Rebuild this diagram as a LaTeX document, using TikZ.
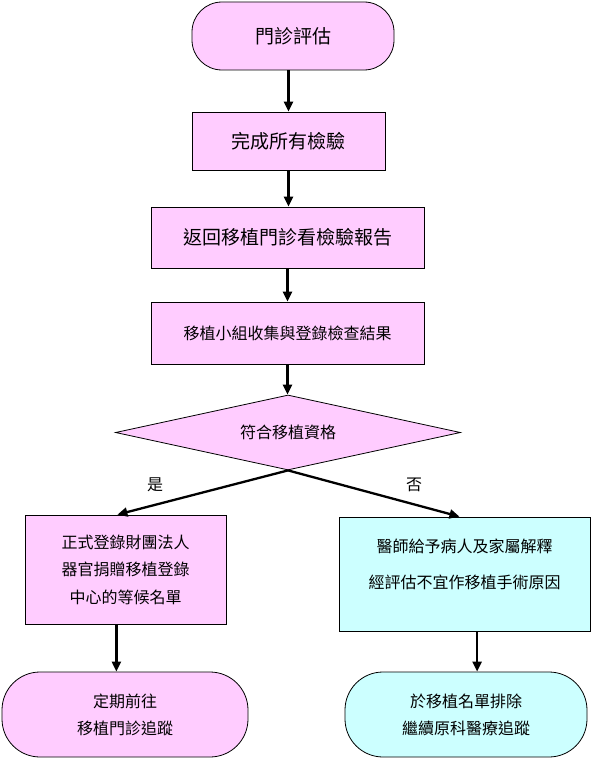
\documentclass[tikz,border=0pt]{standalone}
\usepackage{fontspec}
\setmainfont{Noto Sans CJK TC}
\usetikzlibrary{arrows.meta,shapes.geometric,calc}
\definecolor{pinkc}{HTML}{FFCCFF}
\definecolor{cyanc}{HTML}{CCFFFF}
\begin{document}
\begin{tikzpicture}[x=1pt,y=-1pt,
  base/.style={draw=black,line width=0.8pt,inner sep=0pt,align=center},
  pbox/.style={base,rectangle,fill=pinkc},
  cbox/.style={base,rectangle,fill=cyanc},
  big/.style={font=\fontsize{19}{22}\selectfont},
  small/.style={font=\fontsize{16}{27}\selectfont},
  arr/.style={line width=2.3pt,-{Triangle[length=10pt,width=9pt]}},
  lab/.style={inner sep=0pt,font=\fontsize{16}{18}\selectfont}]
\useasboundingbox (0,0) rectangle (591,760);
\node[pbox,big,rounded corners=30pt,minimum width=202pt,minimum height=68pt] (t1) at (293,36) {門診評估};
\node[pbox,big,minimum width=193pt,minimum height=58pt] (b2) at (288.5,141) {完成所有檢驗};
\node[pbox,big,minimum width=273pt,minimum height=61pt] (b3) at (287.5,237.5) {返回移植門診看檢驗報告};
\node[pbox,small,minimum width=273pt,minimum height=62pt] (b4) at (287.5,333) {移植小組收集與登錄檢查結果};
\node[base,diamond,aspect=4.6,fill=pinkc,small,minimum width=345pt,minimum height=75pt] (dia) at (288,432.5) {符合移植資格};
\node[pbox,small,minimum width=201pt,minimum height=109pt,font=\fontsize{16}{27.5}\selectfont] (lb) at (125.5,569.5) {正式登錄財團法人\\器官捐贈移植登錄\\中心的等候名單};
\node[cbox,minimum width=251pt,minimum height=114pt,font=\fontsize{16}{36}\selectfont,text depth=20pt] (rb) at (464.5,574) {醫師給予病人及家屬解釋\\經評估不宜作移植手術原因};
\node[pbox,rounded corners=38pt,minimum width=246pt,minimum height=85pt,font=\fontsize{16}{27}\selectfont] (lt) at (125,714.5) {定期前往\\移植門診追蹤};
\node[cbox,rounded corners=38pt,minimum width=242pt,minimum height=85pt,font=\fontsize{16}{27}\selectfont] (rt) at (466,714.5) {於移植名單排除\\繼續原科醫療追蹤};
\node[lab] (yes) at (155,485) {是};
\node[lab] (no) at (414,485) {否};
\coordinate (lin) at ($(lb.north west)!0.46!(lb.north east)$);
\coordinate (rin) at ($(rb.north west)!0.48!(rb.north east)$);
\coordinate (lout) at ($(lb.south west)!0.455!(lb.south east)$);
\coordinate (rout) at ($(rb.south west)!0.55!(rb.south east)$);
\draw[arr] (t1.south -| b2.north) -- (b2.north);
\draw[arr] (b2.south) -- (b2.south |- b3.north);
\draw[arr] (b3.south) -- (b4.north);
\draw[arr] (b4.south) -- (b4.south |- dia.north);
\draw[arr] (dia.south) -- (lin);
\draw[arr] (dia.south) -- (rin);
\draw[arr] (lout) -- (lout |- lt.north);
\draw[arr] (rout) -- (rout |- rt.north);
\end{tikzpicture}
\end{document}
